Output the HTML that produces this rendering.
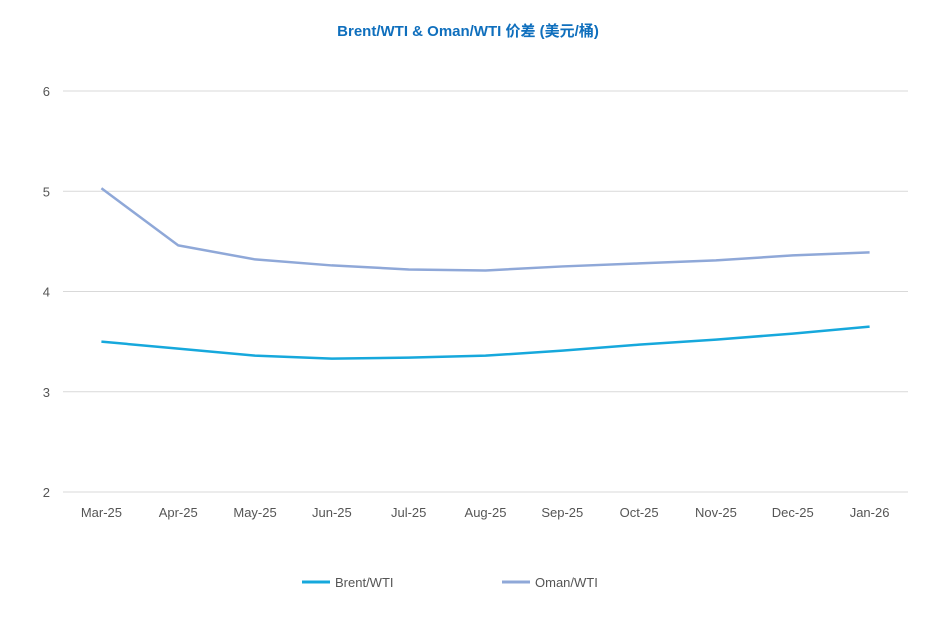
<!DOCTYPE html>
<html><head><meta charset="utf-8"><style>
body{margin:0;background:#fff;}
svg{display:block;font-family:"Liberation Sans","Noto Sans CJK SC",sans-serif;}
</style></head><body>
<svg id="chart" width="937" height="634">
<text x="468" y="36" text-anchor="middle" font-size="15" font-weight="bold" fill="#0f6fbd">Brent/WTI &amp; Oman/WTI 价差 (美元/桶)</text>
<g id="grid"></g><g id="axes"></g><g id="series"></g>
<g>
<line x1="302" y1="582" x2="330" y2="582" stroke="#16a8dc" stroke-width="3"/>
<text x="335" y="587" font-size="13" fill="#555">Brent/WTI</text>
<line x1="502" y1="582" x2="530" y2="582" stroke="#8fa8d8" stroke-width="3"/>
<text x="535" y="587" font-size="13" fill="#555">Oman/WTI</text>
</g>
</svg>
<script>
const categories=["Mar-25","Apr-25","May-25","Jun-25","Jul-25","Aug-25","Sep-25","Oct-25","Nov-25","Dec-25","Jan-26"];
const brent=[3.50,3.43,3.36,3.33,3.34,3.36,3.41,3.47,3.52,3.58,3.65];
const oman=[5.03,4.46,4.32,4.26,4.22,4.21,4.25,4.28,4.31,4.36,4.39];
const yTicks=[2,3,4,5,6];
const NS="http://www.w3.org/2000/svg";
const x0=63,x1=908,yTop=91,yBot=492;
const step=(x1-x0)/categories.length;
const xs=i=>x0+step*(i+0.5);
const ys=v=>yBot-(v-2)/(6-2)*(yBot-yTop);
function mk(t,a,p){const e=document.createElementNS(NS,t);for(const k in a)e.setAttribute(k,a[k]);p.appendChild(e);return e;}
const grid=document.getElementById('grid'),axes=document.getElementById('axes'),ser=document.getElementById('series');
yTicks.forEach(v=>{
 const l=mk('line',{x1:x0,x2:x1,y1:ys(v),y2:ys(v),stroke:'#d9d9d9','stroke-width':1},grid);
 
 
 const t=mk('text',{x:50,y:ys(v)+5,'text-anchor':'end','font-size':13,fill:'#555'},axes);
 t.textContent=v;
 
 
});
categories.forEach((c,i)=>{
 const t=mk('text',{x:xs(i),y:517,'text-anchor':'middle','font-size':13,fill:'#555'},axes);
 t.textContent=c;
 
 
});
function line(d,col,name){
 const p=mk('polyline',{points:d.map((v,i)=>xs(i)+','+ys(v)).join(' '),fill:'none',stroke:col,'stroke-width':2.5,'stroke-linejoin':'round'},ser);
 
 
}
line(oman,'#8fa8d8','oman-wti-line');
line(brent,'#16a8dc','brent-wti-line');
</script>
</body></html>
